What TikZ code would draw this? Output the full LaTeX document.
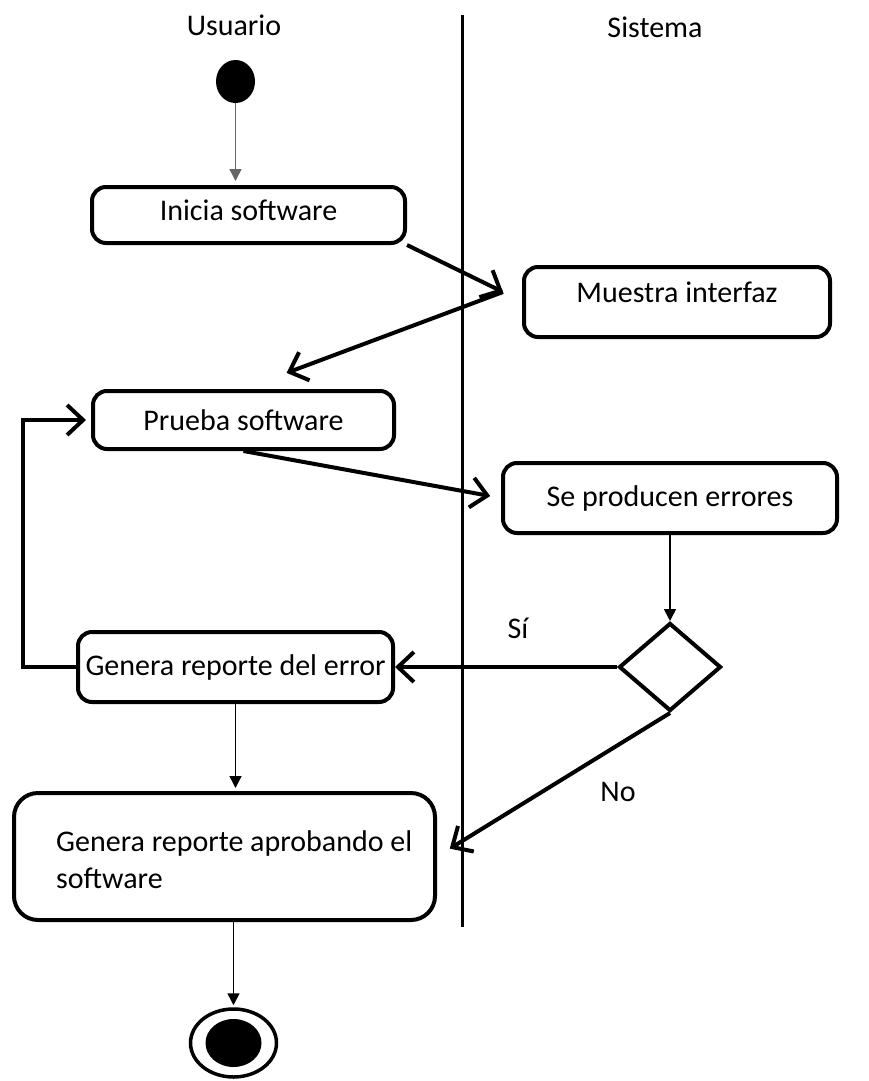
\documentclass[tikz,border=0pt]{standalone}
\usepackage{fontspec}
\setmainfont{Carlito}
\usetikzlibrary{arrows.meta,shapes.geometric}

\begin{document}
\begin{tikzpicture}[x=1pt,y=-1pt,every node/.style={font=\fontsize{30}{37}\selectfont},
  act/.style={draw,line width=4pt,rounded corners=14pt,inner sep=0pt},
  flow/.style={line width=4pt,-{Straight Barb[length=16pt,width=30pt]}},
  tflow/.style={line width=1.5pt,-{Triangle[length=12pt,width=12pt]}}]
\useasboundingbox (0,0) rectangle (869,1081);
% calles
\node (usr) at (234,25) {Usuario};
\node (sis) at (655,27) {Sistema};
\coordinate (lanetop) at (462,15);
\coordinate (lanebot) at (462,927);
\draw[line width=3pt] (lanetop) -- (lanebot);
% actividades
\node[ellipse,fill,inner sep=0pt,minimum width=39,minimum height=43] (start) at (235.5,81.5) {};
\node[act,minimum width=313,minimum height=56,text depth=10pt] (inicia) at (248.5,215) {Inicia software};
\node[act,minimum width=306,minimum height=70,text depth=20pt] (muestra) at (677,302) {Muestra interfaz};
\node[act,minimum width=301,minimum height=58] (prueba) at (243.5,420) {Prueba software};
\node[act,minimum width=334,minimum height=70] (errores) at (670,498) {Se producen errores};
\node[diamond,draw,line width=4pt,inner sep=0pt,minimum width=102,minimum height=88] (dec) at (670,667) {};
\node[act,minimum width=315,minimum height=70] (gerr) at (235.5,667) {Genera reporte del error};
\node[act,rounded corners=24pt,minimum width=421,minimum height=127] (aprob) at (224.5,856.5) {};
\node[anchor=west,align=left,inner sep=0pt] (aprobtxt) at (56,860) {Genera reporte aprobando el\\software};
\node[ellipse,draw,line width=3.5pt,inner sep=0pt,minimum width=86,minimum height=68] (fin) at (233.5,1043) {};
\node[ellipse,fill,inner sep=0pt,minimum width=56,minimum height=48] (finin) at (fin) {};
% flujos
\coordinate (mi) at ([shift={(-19,-10)}]muestra.west);
\draw[tflow,draw=black!60,fill=black!60,shorten >=4pt] (start.south) -- (start.south |- inicia.north);
\draw[flow] (inicia.south east) -- (mi);
\draw[flow,shorten >=46pt] (mi) -- (prueba.north);
\draw[flow,shorten >=11pt] (prueba.south) -- (errores.west);
\draw[tflow] (errores.south) -- (dec.north);
\draw[flow] (dec.west) -- (gerr.east);
\node (si) at (518,628) {Sí};
\draw[flow,shorten >=5pt] (gerr.west) -- ++(-53,0) |- (prueba.west);
\draw[tflow,shorten >=3pt] (gerr.south) -- (gerr.south |- aprob.north);
\draw[flow,shorten >=15pt] (dec.south) -- (aprob.east);
\node (no) at (618,792) {No};
\draw[tflow,shorten >=2pt] (fin |- aprob.south) -- (fin.north);
\end{tikzpicture}
\end{document}
